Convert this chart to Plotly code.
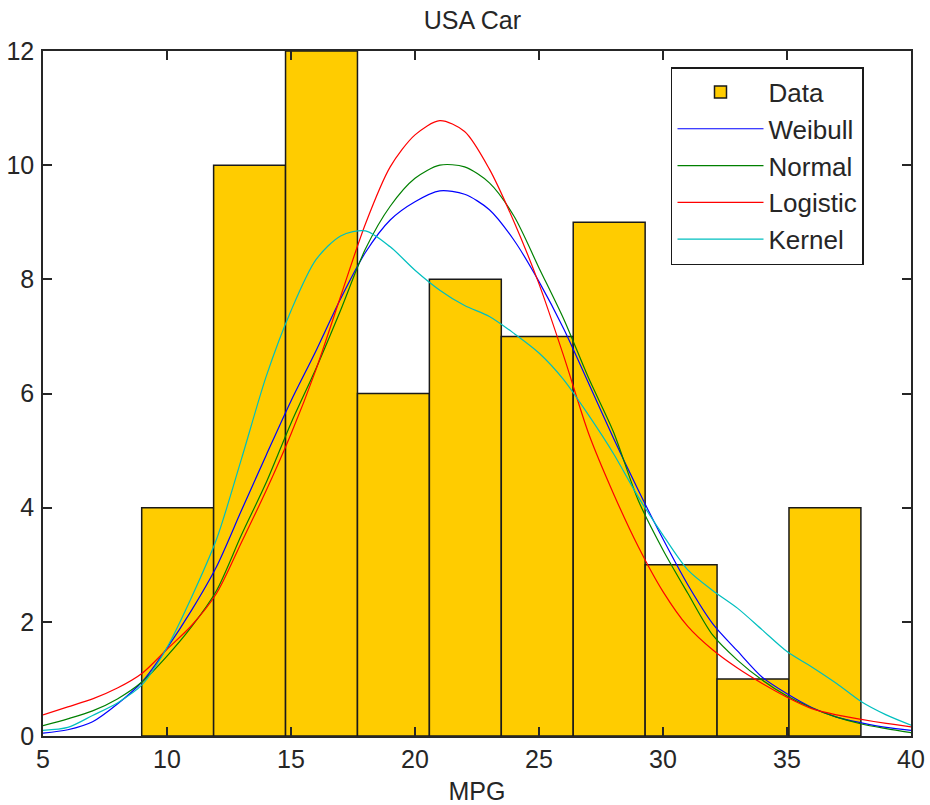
import plotly.graph_objects as go

# Histogram bins (MPG) and counts
bin_centers = [10.43, 13.33, 16.23, 19.13, 22.03, 24.93, 27.83, 30.73, 33.63, 36.53]
bin_width = 2.9
counts = [4, 10, 12, 6, 8, 7, 9, 3, 1, 4]

# Fitted curves (scaled densities)
x_fit = list(range(5, 41))
weibull = [0.05, 0.11, 0.25, 0.56, 0.95, 1.54, 2.21, 2.97, 3.95, 4.92, 5.87, 6.74,
           7.66, 8.47, 9.04, 9.36, 9.55, 9.49, 9.22, 8.68, 7.96, 7.13, 6.18, 5.22,
           4.31, 3.45, 2.65, 1.97, 1.49, 1.03, 0.74, 0.50, 0.33, 0.23, 0.15, 0.10]
normal = [0.18, 0.30, 0.44, 0.65, 0.95, 1.40, 1.92, 2.55, 3.52, 4.44, 5.48, 6.43,
          7.46, 8.53, 9.28, 9.77, 10.00, 9.97, 9.69, 9.10, 8.20, 7.30, 6.27, 5.33,
          4.13, 3.26, 2.50, 1.77, 1.33, 0.98, 0.70, 0.49, 0.33, 0.21, 0.13, 0.06]
logistic = [0.37, 0.51, 0.65, 0.84, 1.10, 1.52, 1.94, 2.50, 3.39, 4.30, 5.29, 6.41,
            7.70, 8.97, 9.97, 10.53, 10.78, 10.59, 9.93, 9.00, 7.92, 6.65, 5.30, 4.25,
            3.32, 2.53, 1.92, 1.51, 1.19, 0.92, 0.68, 0.48, 0.37, 0.29, 0.22, 0.16]
kernel = [0.10, 0.15, 0.36, 0.58, 0.90, 1.55, 2.44, 3.45, 4.85, 6.30, 7.45, 8.34,
          8.76, 8.85, 8.57, 8.16, 7.81, 7.54, 7.35, 7.05, 6.71, 6.24, 5.62, 4.95,
          4.19, 3.52, 2.91, 2.55, 2.24, 1.86, 1.48, 1.21, 0.92, 0.60, 0.37, 0.19]

x_ticks = [5, 10, 15, 20, 25, 30, 35, 40]
y_ticks = [0, 2, 4, 6, 8, 10, 12]

FONT = "Liberation Sans, Arial, sans-serif"
TXT = "#262626"

fig = go.Figure()
fig.add_bar(x=bin_centers, y=counts, width=bin_width, name="Data",
            marker=dict(color="#FFCC00", line=dict(color="#1a1a1a", width=1.5)))
for name, ys, col in [("Weibull", weibull, "#0000FF"), ("Normal", normal, "#008000"),
                      ("Logistic", logistic, "#FF0000"), ("Kernel", kernel, "#00BFBF")]:
    fig.add_scatter(x=x_fit, y=ys, mode="lines", name=name,
                    line=dict(color=col, width=1.2, shape="spline", smoothing=0.8))

axis_common = dict(showgrid=False, zeroline=False, showline=True, linecolor="#262626",
                   linewidth=1.5, mirror="ticks", ticks="inside", ticklen=9,
                   tickcolor="#262626", tickwidth=1.5, automargin=False,
                   tickfont=dict(family=FONT, size=25, color=TXT))

fig.update_layout(
    width=930, height=805,
    margin=dict(l=43, r=19, t=51, b=69, autoexpand=False),
    plot_bgcolor="white", paper_bgcolor="white",
    font=dict(family=FONT, size=25, color=TXT),
    title=dict(text="USA Car", x=0.508, xanchor="center", y=0.975, yanchor="middle",
               font=dict(family=FONT, size=25, color=TXT)),
    xaxis=dict(range=[5, 40], tickvals=x_ticks, ticklabelstandoff=0,
               title=dict(text="MPG", standoff=12, font=dict(family=FONT, size=25, color=TXT)),
               **axis_common),
    yaxis=dict(range=[0, 12], tickvals=y_ticks, ticklabelstandoff=2, **axis_common),
    legend=dict(x=0.7235, y=0.9766, xanchor="left", yanchor="top",
                bgcolor="white", bordercolor="#1a1a1a", borderwidth=1.5,
                font=dict(family=FONT, size=26, color=TXT), itemwidth=86,
                tracegroupgap=0),
    showlegend=True,
)

# Remove the default page margin so the figure fills the 930x805 window exactly.
fig.write_html("out.html", config={"displayModeBar": False},
               post_script="document.body.style.margin='0';")
